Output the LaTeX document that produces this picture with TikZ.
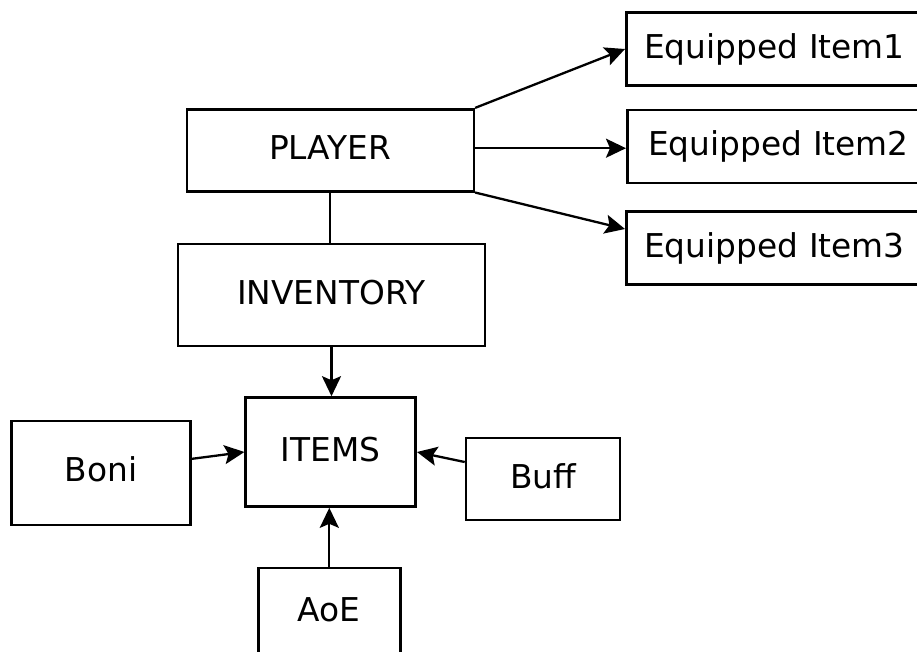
\documentclass[tikz,border=0pt]{standalone}
\usepackage{fontspec}
\setmainfont{DejaVu Sans}
\usetikzlibrary{arrows.meta}
\begin{document}
\begin{tikzpicture}[x=1pt,y=-1pt,
  box/.style={draw, line width=2.6pt, inner sep=0pt,
    font=\fontsize{32.8}{38}\selectfont, text height=24pt, text depth=6pt},
  slot/.style={box, anchor=west, minimum height=73pt, text width=290pt, align=left},
  link/.style={line width=2.3pt},
  arr/.style={line width=2.3pt, -{Stealth[length=20pt,width=19pt,inset=4pt]}}]
\useasboundingbox (0,0) rectangle (917,651);

% main chain
\node[box, minimum width=287pt, minimum height=82pt] (player) at (330.3,150.2) {PLAYER};
\node[box, minimum width=307pt, minimum height=102pt] (inventory) at (331.5,295) {INVENTORY};
\node[box, minimum width=170pt, minimum height=109pt] (items) at (330.7,452) {ITEMS};

% item modifiers
\node[box, minimum width=179pt, minimum height=104pt] (boni) at (101.2,472.8) {Boni};
\node[box, minimum width=154pt, minimum height=82pt] (buff) at (543,479) {Buff};
\node[box, minimum width=142pt, minimum height=88pt] (aoe) at (329.3,612) {AoE};

% equipment slots, running off the right edge
\node[slot, inner xsep=17.7pt] (eq1) at (625,49) {Equipped Item1};
\node[slot, inner xsep=20.7pt] (eq2) at (626,146.4) {Equipped Item2};
\node[slot, inner xsep=17.7pt] (eq3) at (625,248) {Equipped Item3};

% connectors
\draw[link] (player.south) -- (player.south |- inventory.north);
\draw[arr] (inventory.south) -- (inventory.south |- items.north);
\draw[arr] ([yshift=14pt]boni.east) -- (items.west);
\draw[arr] ([yshift=17pt]buff.west) -- (items.east);
\draw[arr] (aoe.north) -- (aoe.north |- items.south);

\draw[arr] (player.north east) -- (eq1.west);
\draw[arr] ([yshift=2pt]player.east) -- ([yshift=2pt]player.east -| eq2.west);
\draw[arr] (player.south east) -- ([yshift=19pt]eq3.west);
\end{tikzpicture}
\end{document}
